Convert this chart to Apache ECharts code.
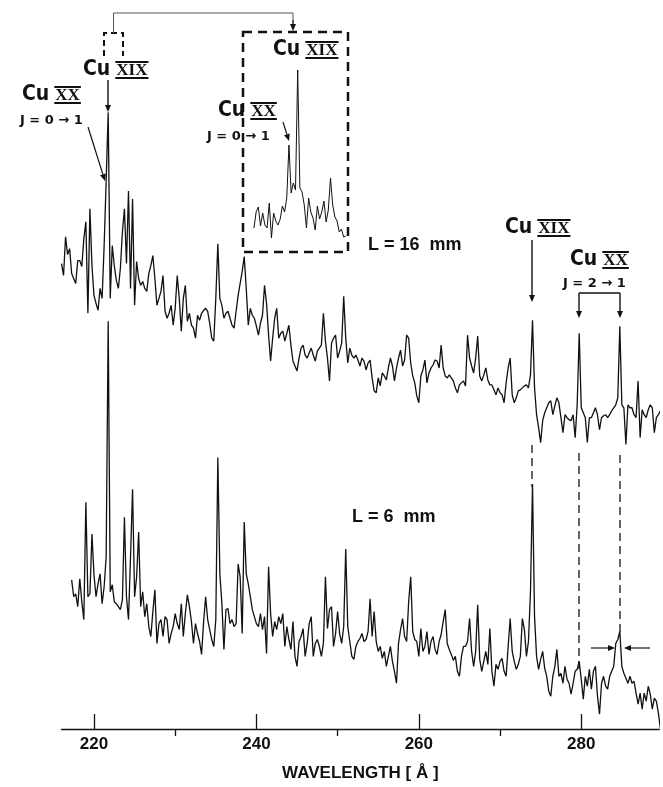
<!DOCTYPE html>
<html>
<head>
<meta charset="utf-8">
<title>Cu XIX / Cu XX spectra</title>
<script src="https://cdn.jsdelivr.net/npm/echarts@6.0.0/dist/echarts.min.js"></script>
<style>
html,body{margin:0;padding:0;background:#fff;}
#main{width:663px;height:787px;}
</style>
</head>
<body>
<div id="main"></div>
<script>
// wavelength sampling of the traces (angstrom)
var upperStart = 216.0, lowerStart = 217.25, insetStart = 220.6;
var mainStep = 0.25, insetStep = 0.05;
var majorTicks = [220, 240, 260, 280];
var minorTicks = [230, 250, 270];

// L = 16 mm trace (arb. units, includes vertical offset)
var upperInt = [468,456,495,477,483,458,453,448,471,471,
465,493,510,418,523,466,436,428,421,443,
433,486,551,620,433,486,466,451,443,463,
500,523,468,541,443,533,426,470,453,446,
450,443,440,458,466,476,453,426,433,440,
456,420,413,418,426,406,423,456,433,400,
433,446,410,418,406,403,393,416,411,418,
421,423,420,408,393,390,433,488,433,426,
413,418,420,413,406,403,420,436,448,460,
475,443,406,423,416,413,405,396,408,416,
446,428,396,370,393,413,423,393,398,400,
390,398,406,386,370,365,360,373,383,386,
376,373,378,383,376,370,380,383,386,418,
390,373,350,388,393,396,373,380,388,435,
393,368,383,376,373,376,371,365,373,370,
361,368,371,353,340,338,353,345,358,355,
351,363,373,365,350,363,373,381,365,371,
396,393,368,355,348,335,328,355,361,371,
348,358,363,366,371,370,363,386,363,355,
353,356,353,350,343,338,346,348,350,345,
396,373,365,358,373,395,355,350,356,363,
351,346,346,341,336,343,338,336,328,348,
363,373,336,328,333,340,341,343,345,346,
343,356,411,343,316,303,288,310,318,323,
328,330,316,325,333,328,313,298,316,313,
311,310,316,293,326,398,323,318,313,288,
313,313,318,323,316,301,313,315,316,313,
316,320,323,326,333,405,326,323,286,326,
323,323,316,313,350,293,321,316,313,321,
326,323,298,313,316,320];

// L = 6 mm trace
var lowerInt = [150,133,136,123,151,128,110,228,133,136,
196,155,133,146,156,126,143,173,410,138,
145,128,126,123,120,130,213,133,110,173,
241,133,153,198,123,138,113,126,103,93,
118,140,86,106,110,93,113,110,86,96,
103,116,106,100,126,93,116,135,123,108,
86,106,96,88,75,108,133,110,100,90,
83,110,273,156,126,80,120,121,106,110,
103,106,166,153,96,208,156,146,133,120,
113,106,103,116,100,113,76,163,116,93,
108,100,113,106,116,83,103,90,80,108,
73,63,88,93,101,73,86,106,113,73,
86,90,83,73,86,153,101,120,123,83,
96,118,96,86,103,181,103,88,73,70,
83,88,91,96,88,90,98,131,93,118,
88,78,83,71,78,63,73,83,68,58,
46,86,100,111,93,88,128,153,98,90,
88,73,101,78,83,98,75,88,93,80,
75,88,95,108,120,86,80,75,69,73,
58,53,73,83,83,88,111,78,63,78,
125,70,58,68,78,65,101,58,43,65,
60,68,71,58,53,83,111,78,68,60,
65,73,111,100,73,88,138,246,113,73,
60,70,78,61,53,38,33,53,63,80,
53,56,46,63,50,46,35,46,58,60,
68,50,30,53,43,60,40,58,63,33,
15,46,53,43,40,53,58,63,86,90,
98,63,56,51,46,53,46,48,36,25,
36,20,36,28,43,35,20,31,28,16,
0];

// expanded view of the 221-223 A region (inset)
var insetInt = [24,40,45,26,39,27,24,49,14,39,
31,27,33,46,40,54,107,59,69,62,
182,64,60,47,24,54,40,34,22,46,
33,40,51,30,42,74,47,35,31,20,
23,15,16];

function toPairs(start, step, arr){
	var out = [];
	for (var i = 0; i < arr.length; i++) {
		out.push([+(start + i * step).toFixed(3), arr[i]]);
	}
	return out;
}

var INK = '#111';
var CU_FONT = 'bold 21px "Liberation Sans Narrow","DejaVu Sans Condensed",sans-serif';
var ROM_FONT = 'bold 17px "Liberation Serif","DejaVu Serif",serif';
var J_FONT = 'bold 13px "DejaVu Sans",sans-serif';
var L_FONT = 'bold 18px "Liberation Sans","DejaVu Sans",sans-serif';

var measureCtx = document.createElement('canvas').getContext('2d');
function textWidth(s, font){
	measureCtx.font = font;
	return measureCtx.measureText(s).width;
}
function txt(x, y, s, font){
	return {type:'text', silent:true, style:{text:s, x:x, y:y, font:font, fill:INK,
		textAlign:'left', align:'left', textVerticalAlign:'middle', verticalAlign:'middle'}};
}
// "Cu" + roman numeral with bars above and below
function cuLabel(x, y, roman){
	var w1 = textWidth('Cu', CU_FONT);
	var rx = x + w1 + 6;
	var w2 = textWidth(roman, ROM_FONT);
	return [
		txt(x, y, 'Cu', CU_FONT),
		txt(rx, y + 1, roman, ROM_FONT),
		{type:'rect', silent:true, shape:{x:rx - 1, y:y - 9, width:w2 + 2, height:2}, style:{fill:INK}},
		{type:'rect', silent:true, shape:{x:rx - 1, y:y + 7, width:w2 + 2, height:2}, style:{fill:INK}}
	];
}
function seg(x1, y1, x2, y2, w, dash){
	return {type:'line', silent:true, shape:{x1:x1, y1:y1, x2:x2, y2:y2},
		style:{stroke:INK, lineWidth:w, lineDash:dash || null}};
}
function arrow(x1, y1, x2, y2, w){
	var a = Math.atan2(y2 - y1, x2 - x1), L = 7, H = 3;
	var bx = x2 - L * Math.cos(a), by = y2 - L * Math.sin(a);
	var nx = -Math.sin(a) * H, ny = Math.cos(a) * H;
	return [
		seg(x1, y1, bx, by, w || 1.4),
		{type:'polygon', silent:true, shape:{points:[[x2, y2], [bx + nx, by + ny], [bx - nx, by - ny]]}, style:{fill:INK}}
	];
}

var annot = [].concat(
	// small bracket and connector to the inset
	[{type:'polyline', silent:true, shape:{points:[[104,56],[104,33],[123,33],[123,56]]},
		style:{stroke:INK, lineWidth:2, lineDash:[6,4], fill:null}}],
	[{type:'polyline', silent:true, shape:{points:[[113.5,33],[113.5,13],[293,13],[293,24]]},
		style:{stroke:'#555', lineWidth:1, fill:null}}],
	arrow(293, 20, 293, 31, 1),
	[{type:'rect', silent:true, shape:{x:243, y:32, width:105, height:220},
		style:{fill:null, stroke:INK, lineWidth:2.5, lineDash:[9,6]}}],
	// left labels
	cuLabel(83, 70, 'XIX'), arrow(108, 80, 108, 112, 1.4),
	cuLabel(22, 95, 'XX'), [txt(20, 121, 'J = 0 \u2192 1', J_FONT)], arrow(88, 127, 105, 181, 1.2),
	// inset labels
	cuLabel(273, 50, 'XIX'),
	cuLabel(218, 111, 'XX'), [txt(207, 137, 'J = 0 \u2192 1', J_FONT)], arrow(283, 122, 289, 141, 1.2),
	[txt(368, 245, 'L = 16  mm', L_FONT)],
	// right labels
	cuLabel(505, 228, 'XIX'), arrow(532, 240, 532, 302, 1.4),
	cuLabel(570, 260, 'XX'), [txt(563, 284, 'J = 2 \u2192 1', J_FONT)],
	[seg(579, 293, 620, 293, 1.4)], arrow(579, 293, 579, 318, 1.4), arrow(620, 293, 620, 318, 1.4),
	[txt(352, 517, 'L = 6  mm', L_FONT)],
	// dashed guides between the two traces
	[seg(532, 445, 532, 487, 1.3, [8,5]), seg(579, 453, 579, 670, 1.3, [8,5]), seg(620, 455, 620, 633, 1.3, [8,5])],
	arrow(591, 648, 615, 648, 1.2), arrow(650, 648, 624, 648, 1.2)
);

var lineStyle = {color:INK, width:1.3};
var option = {
	backgroundColor:'#fff',
	animation:false,
	grid:[
		{left:61.5, right:3.8, top:0, bottom:54},
		{left:243, top:32, width:105, height:220}
	],
	xAxis:[
		{
			type:'value', gridIndex:0, min:216, max:289.6,
			name:'WAVELENGTH [ \u00c5 ]', nameLocation:'middle', nameGap:36,
			nameTextStyle:{color:INK, fontWeight:'bold', fontSize:17, fontFamily:'Liberation Sans'},
			axisLine:{show:true, onZero:false, lineStyle:{color:INK, width:1.3}},
			axisTick:{inside:true, length:15, customValues:majorTicks, lineStyle:{color:INK, width:1.3}},
			axisLabel:{customValues:majorTicks, margin:7, color:INK, fontWeight:'bold', fontSize:17, fontFamily:'Liberation Sans'},
			splitLine:{show:false}
		},
		{
			type:'value', gridIndex:0, min:216, max:289.6,
			axisLine:{show:false},
			axisTick:{inside:true, length:7, customValues:minorTicks, lineStyle:{color:INK, width:1.3}},
			axisLabel:{show:false},
			splitLine:{show:false}
		},
		{type:'value', gridIndex:1, min:220.35, max:222.75, show:false}
	],
	yAxis:[
		{type:'value', gridIndex:0, min:0, max:733, show:false},
		{type:'value', gridIndex:1, min:0, max:220, show:false}
	],
	series:[
		{name:'L = 16 mm', type:'line', xAxisIndex:0, yAxisIndex:0, data:toPairs(upperStart, mainStep, upperInt),
			symbol:'none', lineStyle:lineStyle, clip:false, silent:true},
		{name:'L = 6 mm', type:'line', xAxisIndex:0, yAxisIndex:0, data:toPairs(lowerStart, mainStep, lowerInt),
			symbol:'none', lineStyle:lineStyle, clip:false, silent:true},
		{name:'inset', type:'line', xAxisIndex:2, yAxisIndex:1, data:toPairs(insetStart, insetStep, insetInt),
			symbol:'none', lineStyle:{color:INK, width:1}, clip:false, silent:true}
	],
	graphic:{elements:annot}
};

var myChart = echarts.init(document.getElementById('main'));
myChart.setOption(option);
</script>
</body>
</html>
